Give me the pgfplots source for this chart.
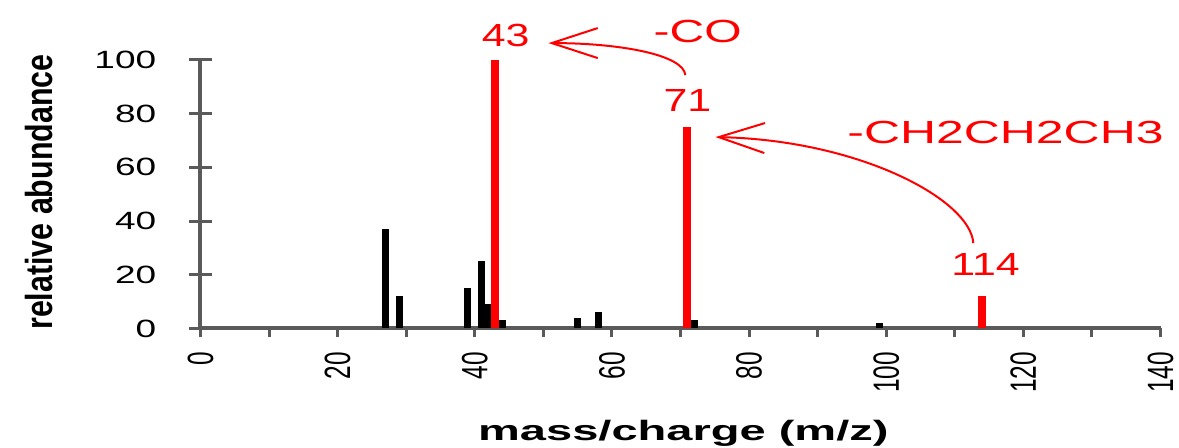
\documentclass[border=0pt]{standalone}
\usepackage{fontspec}
\setmainfont{Liberation Sans}
\usepackage{pgfplots}
\pgfplotsset{compat=1.18}
\usetikzlibrary{arrows.meta}

\definecolor{axisgray}{HTML}{5A5A5A}
\definecolor{peakred}{HTML}{FF0000}

\newcommand{\annfont}{\fontsize{16pt}{18pt}\selectfont}

\begin{document}
\begin{tikzpicture}
\useasboundingbox (0,0) rectangle (589.5pt,224pt);
\begin{axis}[
  at={(100.25pt,59.75pt)}, anchor=south west,
  scale only axis, width=480pt, height=134.25pt,
  xmin=0, xmax=140, ymin=0, ymax=100,
  axis x line*=bottom, axis y line*=left,
  axis line style={axisgray, line width=2pt},
  clip=false,
  xtick={0,20,...,140}, minor xtick={10,30,...,130},
  ytick={0,20,...,100},
  xtick align=outside, ytick align=center,
  x tick style={axisgray, line width=1.5pt, /pgfplots/major tick length=4.5pt, /pgfplots/minor tick length=4.5pt},
  y tick style={axisgray, line width=1.5pt, /pgfplots/major tick length=11.5pt},
  /pgf/number format/assume math mode=true,
  yticklabel style={font=\fontsize{12.5pt}{14pt}\selectfont, xscale=1.48, anchor=east, xshift=-10pt},
  xticklabel style={font=\fontsize{12.2pt}{14pt}\selectfont, yshift=-4pt, rotate=90, yscale=1.5, anchor=east},
  xlabel={mass/charge (m/z)},
  xlabel style={at={(axis description cs:0.503,-0.418)}, anchor=base,
    font=\bfseries\fontsize{14pt}{16pt}\selectfont, xscale=1.68},
  ylabel={relative abundance},
  ylabel style={at={(axis description cs:-0.168,0.508)}, anchor=center,
    font=\bfseries\fontsize{15.2pt}{17pt}\selectfont, yscale=1.24},
]
% fragment ions
\addplot[ycomb, black, line width=3.5pt, mark=none]
  coordinates {(27,37) (29,12) (39,15) (41,25) (42,9) (44,3) (55,4) (58,6) (72,3) (99,2)};
% key peaks of the fragmentation path
\addplot[ycomb, peakred, line width=4pt, mark=none]
  coordinates {(43,100) (71,75) (114,12)};

% peak labels and neutral losses
\node[text=peakred, font=\annfont, xscale=1.34] at (axis cs:44.5,109.3) {43};
\node[text=peakred, font=\annfont, xscale=1.34] at (axis cs:71.0,85.1) {71};
\node[text=peakred, font=\annfont, xscale=1.34] at (axis cs:114.5,24.0) {114};
\node[text=peakred, font=\annfont, xscale=1.5] at (axis cs:72.5,110.8) {-CO};
\node[text=peakred, font=\annfont, xscale=1.56] at (axis cs:117.4,73.1) {-CH2CH2CH3};

\draw[peakred, line width=1pt, -{Straight Barb[length=23pt,width=15pt]}]
  (axis cs:70.7,94.4) .. controls (axis cs:70.44,101.9) and (axis cs:61.25,106.3) .. (axis cs:50.75,106.3);
\draw[peakred, line width=1pt, -{Straight Barb[length=23pt,width=15pt]}]
  (axis cs:112.7,31.8) .. controls (axis cs:112.3,47.8) and (axis cs:96.25,70.2) .. (axis cs:75.1,71.3);
\end{axis}
\end{tikzpicture}
\end{document}
